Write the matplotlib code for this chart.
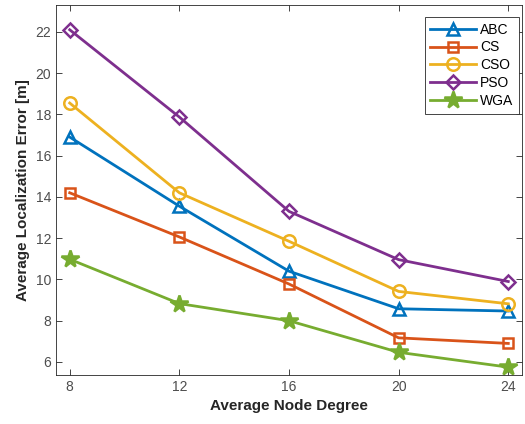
import matplotlib

matplotlib.use("Agg")
import matplotlib.pyplot as plt  # noqa: E402

plt.rcParams["font.family"] = ["Liberation Sans", "DejaVu Sans"]

node_degree = [8, 12, 16, 20, 24]
abc = [16.9, 13.55, 10.4, 8.58, 8.47]
cs = [14.2, 12.06, 9.78, 7.17, 6.9]
cso = [18.55, 14.2, 11.85, 9.42, 8.82]
pso = [22.1, 17.87, 13.3, 10.96, 9.9]
wga = [10.98, 8.83, 8.0, 6.47, 5.75]

series = [
    ("ABC", abc, "#0072BD", "^", "none"),
    ("CS", cs, "#D95319", "s", "none"),
    ("CSO", cso, "#EDB120", "o", "none"),
    ("PSO", pso, "#7E2F8E", "D", "none"),
    ("WGA", wga, "#77AC30", "*", None),
]

figure = plt.figure(figsize=(5.25, 4.24), dpi=100)
axis = figure.add_axes([56 / 525, 1 - 375 / 424, 466 / 525, 370 / 424])

for label, values, color, marker, face in series:
    size = 9 if marker != "*" else 13
    if marker == "D":
        size = 7.5
    if marker == "s":
        size = 7
    axis.plot(
        node_degree,
        values,
        label=label,
        color=color,
        linewidth=2,
        marker=marker,
        markersize=size,
        markeredgewidth=1.8,
        markerfacecolor=color if face is None else face,
    )

axis.set_xlim(7.5, 24.5)
axis.set_ylim(5.37, 23.3)
axis.set_xticks(node_degree)
axis.set_yticks(range(6, 23, 2))
axis.tick_params(direction="in", top=True, right=True, labelsize=10,
                 colors="#262626", length=4, width=0.6)
for label in axis.get_xticklabels() + axis.get_yticklabels():
    label.set_color("#4d4d4d")
for spine in axis.spines.values():
    spine.set_color("#262626")
    spine.set_linewidth(0.6)
axis.set_xlabel("Average Node Degree", fontsize=11, fontweight="bold", color="#262626")
axis.set_ylabel("Average Localization Error [m]", fontsize=11, fontweight="bold",
                color="#262626")
legend = axis.legend(loc="upper right", bbox_to_anchor=(0.9936, 0.9676), fontsize=10,
                     fancybox=False, framealpha=1, edgecolor="#262626",
                     handlelength=3.3, borderaxespad=0, borderpad=0.4,
                     labelspacing=0.28, handletextpad=0.3)
legend.get_frame().set_linewidth(0.6)

figure.savefig("out.png", dpi=100)
